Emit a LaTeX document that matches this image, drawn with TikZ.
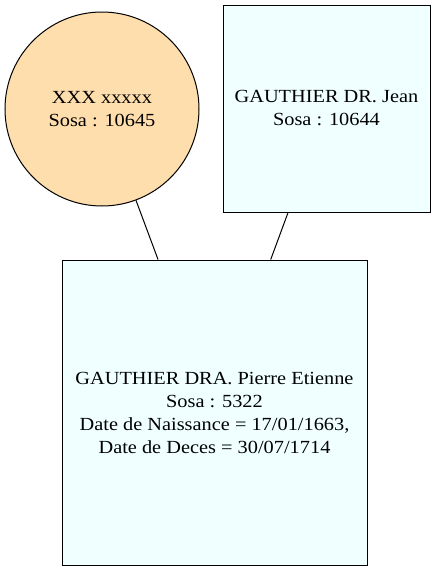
\documentclass[tikz,border=0pt]{standalone}
\usepackage{fontspec}
\setmainfont[FakeStretch=1.1]{Liberation Serif}
\definecolor{navajo}{HTML}{FFDEAD}
\definecolor{azurec}{HTML}{F0FFFF}
\begin{document}
\begin{tikzpicture}[x=1pt,y=-1pt,
  person/.style={draw=black,line width=1pt,align=center,inner sep=0pt,
    font=\fontsize{18.5}{23}\selectfont},
  boxp/.style={person,rectangle,fill=azurec},
  circp/.style={person,circle,fill=navajo},
  link/.style={draw=black,line width=1pt}]
\useasboundingbox (0,0) rectangle (435,571);
\node[circp,minimum size=194pt] (c) at (102,109) {XXX xxxxx\\Sosa : 10645};
\node[boxp,minimum width=207pt,minimum height=207pt] (j) at (326.5,108.5) {GAUTHIER DR. Jean\\Sosa : 10644};
\node[boxp,minimum width=305pt,minimum height=305pt] (p) at (214.5,412.5) {GAUTHIER DRA. Pierre Etienne\\Sosa : 5322\\Date de Naissance = 17/01/1663,\\Date de Deces = 30/07/1714};
\draw[link] (c) -- (p);
\draw[link] (j) -- (p);
\end{tikzpicture}
\end{document}
